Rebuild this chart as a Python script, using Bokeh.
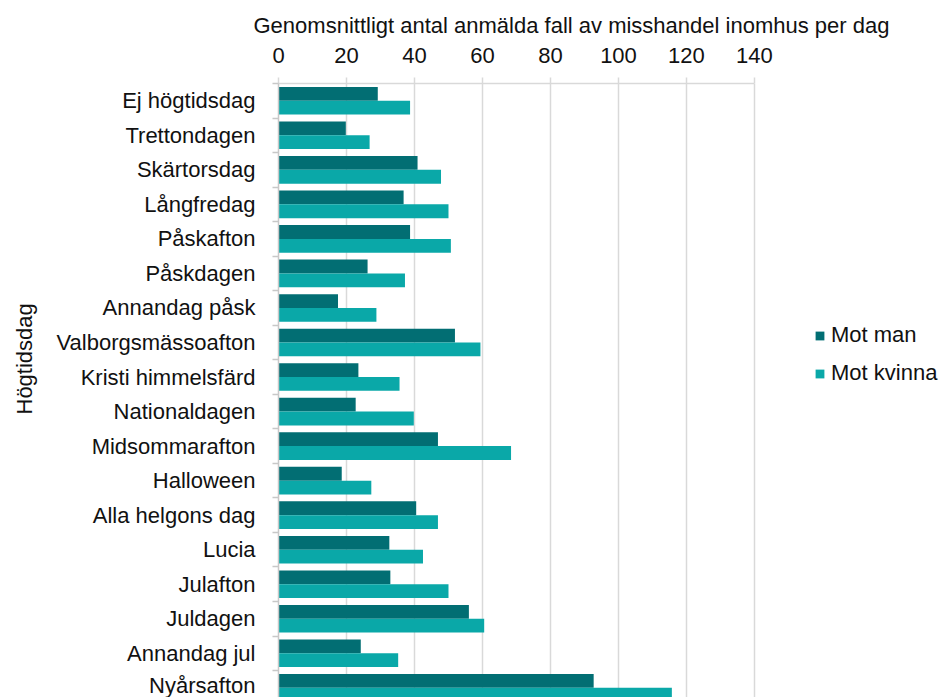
from bokeh.plotting import figure
from bokeh.models import (ColumnDataSource, Range1d, LinearAxis, FixedTicker, Title,
                          Legend, LegendItem, Grid)
from bokeh.transform import dodge
from bokeh.embed import file_html
from bokeh.resources import INLINE

# ---- data ----
categories = ["Ej högtidsdag", "Trettondagen", "Skärtorsdag", "Långfredag", "Påskafton",
              "Påskdagen", "Annandag påsk", "Valborgsmässoafton", "Kristi himmelsfärd",
              "Nationaldagen", "Midsommarafton", "Halloween", "Alla helgons dag", "Lucia",
              "Julafton", "Juldagen", "Annandag jul", "Nyårsafton"]
mot_man = [29.2, 19.8, 40.9, 36.8, 38.7, 26.2, 17.5, 51.9, 23.5, 22.7, 46.9, 18.6,
           40.5, 32.6, 32.9, 56.0, 24.2, 92.7]
mot_kvinna = [38.7, 26.8, 47.8, 50.0, 50.7, 37.2, 28.8, 59.4, 35.6, 39.8, 68.4, 27.3,
              46.9, 42.5, 50.0, 60.5, 35.2, 115.7]
x_ticks = [0, 20, 40, 60, 80, 100, 120, 140]
series_names = ["Mot man", "Mot kvinna"]
x_title = "Genomsnittligt antal anmälda fall av misshandel inomhus per dag"
y_title = "Högtidsdag"

FONT = "Liberation Sans"
TXT = "#111111"
GRAY = "#d9d9d9"
C_MAN = "#026e73"
C_KV = "#0aa8a8"

idx = list(range(len(categories)))
src = ColumnDataSource(dict(idx=idx, cat=categories, man=mot_man, kvinna=mot_kvinna))

p = figure(width=943, height=697, output_backend="svg", toolbar_location=None,
           x_range=Range1d(0, 195.6), y_range=Range1d(17.28, -0.5),
           x_axis_location=None, y_axis_location=None,
           min_border_left=278, min_border_top=83, min_border_right=0, min_border_bottom=0)
p.outline_line_color = None
p.background_fill_color = "white"
p.border_fill_color = "white"
p.center = [r for r in p.center if not isinstance(r, Grid)]

xticker = FixedTicker(ticks=x_ticks)
grid = Grid(dimension=0, ticker=xticker, grid_line_color=GRAY, grid_line_width=1.5)
p.add_layout(grid)

r1 = p.hbar(y=dodge("idx", -0.2, range=p.y_range), left=0, right="man", height=0.4,
            source=src, fill_color=C_MAN, line_color=None)
r2 = p.hbar(y=dodge("idx", 0.2, range=p.y_range), left=0, right="kvinna", height=0.4,
            source=src, fill_color=C_KV, line_color=None)

xaxis = LinearAxis(ticker=xticker, bounds=(0, 140))
xaxis.axis_line_color = GRAY
xaxis.axis_line_width = 1.5
xaxis.major_tick_line_color = GRAY
xaxis.major_tick_line_width = 1.5
xaxis.major_tick_out = 6
xaxis.major_tick_in = 0
xaxis.minor_tick_line_color = None
xaxis.minor_tick_out = 0
xaxis.major_label_standoff = 15
xaxis.major_label_text_font = FONT
xaxis.major_label_text_font_size = "22px"
xaxis.major_label_text_color = TXT
# tiny blank axis label only to add a few pixels between tick labels and the title
xaxis.axis_label = " "
xaxis.axis_label_text_font_size = "1px"
xaxis.axis_label_standoff = 3
p.add_layout(xaxis, "above")

yaxis = LinearAxis(ticker=FixedTicker(ticks=idx, minor_ticks=[i - 0.5 for i in range(len(idx) + 1)]),
                   major_label_overrides={i: c for i, c in zip(idx, categories)})
yaxis.axis_line_color = "#c8c8c8"
yaxis.axis_line_width = 1.5
yaxis.major_tick_line_color = None
yaxis.major_tick_out = 0
yaxis.major_tick_in = 0
yaxis.minor_tick_line_color = "#c8c8c8"
yaxis.minor_tick_line_width = 1.5
yaxis.minor_tick_out = 6
yaxis.minor_tick_in = 0
yaxis.major_label_standoff = 17
yaxis.major_label_text_font = FONT
yaxis.major_label_text_font_size = "22px"
yaxis.major_label_text_color = TXT
yaxis.axis_label = " "
yaxis.axis_label_text_font_size = "1px"
yaxis.axis_label_standoff = 9
p.add_layout(yaxis, "left")

t_top = Title(text=x_title, align="left", offset=-25, standoff=0,
              text_font=FONT, text_font_size="22px", text_font_style="normal", text_color=TXT)
p.add_layout(t_top, "above")
t_left = Title(text=y_title, align="left", offset=283, standoff=8,
               text_font=FONT, text_font_size="22px", text_font_style="normal", text_color=TXT)
p.add_layout(t_left, "left")

legend = Legend(items=[LegendItem(label=series_names[0], renderers=[r1]),
                       LegendItem(label=series_names[1], renderers=[r2])],
                location=(536, 311), padding=0, margin=0, spacing=12,
                glyph_width=11, glyph_height=11, label_standoff=6,
                label_text_font=FONT, label_text_font_size="22px", label_text_color=TXT,
                border_line_color=None, background_fill_alpha=0)
p.add_layout(legend)

open("out.html", "w").write(file_html(p, INLINE))
